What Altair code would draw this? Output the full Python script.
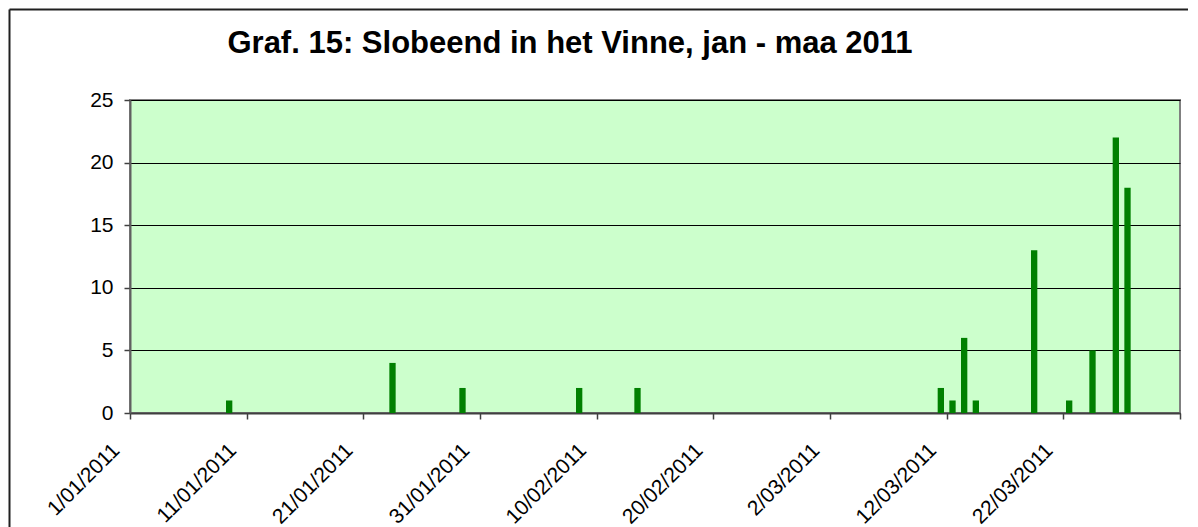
import altair as alt
import pandas as pd

# ---- data ----
dates = ["2011-01-09", "2011-01-23", "2011-01-29", "2011-02-08", "2011-02-13",
         "2011-03-11", "2011-03-12", "2011-03-13", "2011-03-14", "2011-03-19",
         "2011-03-22", "2011-03-24", "2011-03-26", "2011-03-27"]
counts = [1, 4, 2, 2, 2, 2, 1, 6, 1, 13, 1, 5, 22, 18]

tick_dates = ["2011-01-01", "2011-01-11", "2011-01-21", "2011-01-31", "2011-02-10",
              "2011-02-20", "2011-03-02", "2011-03-12", "2011-03-22", "2011-04-01"]
y_ticks = [0, 5, 10, 15, 20, 25]
domain_dates = ["2011-01-01", "2011-04-01"]
title_text = "Graf. 15: Slobeend in het Vinne, jan - maa 2011"

FONT = "Liberation Sans"


def ms(s):
    return int(pd.Timestamp(s, tz="UTC").value // 10**6)


df = pd.DataFrame({"datum_str": dates, "aantal": counts})
tick_ms = [ms(s) for s in tick_dates]
dom_ms = [ms(s) for s in domain_dates]
last_ms = tick_ms[-1]

W, H = 1050, 313

xscale = alt.Scale(type="utc", domain=dom_ms, nice=False)

bars = alt.Chart(df).transform_calculate(
    start="time(datum.datum_str) + 5.5*3600*1000",
    end="time(datum.datum_str) + 18.5*3600*1000",
    nul="0",
).mark_bar(color="#008000").encode(
    x=alt.X("start:T", scale=xscale,
            axis=alt.Axis(values=tick_ms, title=None, grid=False,
                          labelExpr=f"datum.value >= {last_ms} ? '' : utcFormat(datum.value, '%-d/%m/%Y')",
                          labelAngle=-45, labelAlign="right", labelBaseline="middle",
                          labelPadding=28, labelOffset=-14, labelFontSize=21,
                          labelFont=FONT, labelColor="#000000", labelOverlap=False,
                          labelFlush=False,
                          tickSize=6, tickColor="#404040", tickWidth=1.5,
                          domainColor="#404040", domainWidth=2)),
    x2="end:T",
    y=alt.Y("aantal:Q", scale=alt.Scale(domain=[0, 25], nice=False),
            axis=alt.Axis(values=y_ticks, title=None, grid=True, gridColor="#000000",
                          gridWidth=1, labelFontSize=21, labelFont=FONT,
                          labelColor="#000000", labelPadding=11,
                          tickSize=6, tickColor="#404040", tickWidth=1.5,
                          domainColor="#606060", domainWidth=2)),
    y2="nul:Q",
)

one = pd.DataFrame({"k": [0]})
top_rule = alt.Chart(one).mark_rule(color="#202020", strokeWidth=2, clip=False).encode(
    x=alt.value(-120.5), x2=alt.value(1058), y=alt.value(-90.5))
left_rule = alt.Chart(one).mark_rule(color="#202020", strokeWidth=2, clip=False).encode(
    x=alt.value(-120.5), y=alt.value(-90.5), y2=alt.value(440))

chart = alt.layer(bars, top_rule, left_rule).properties(
    width=W, height=H,
    padding=0,
    title=alt.TitleParams(text=title_text, frame="group", anchor="middle", dx=-85,
                          offset=-75, baseline="alphabetic", fontSize=31,
                          font=FONT, fontWeight="bold", color="#000000"),
    background="#FFFFFF",
).configure_view(
    fill="#CCFFCC", stroke="#808080", strokeWidth=2
)

chart.save("out.html", embed_options={"renderer": "svg", "actions": False})
